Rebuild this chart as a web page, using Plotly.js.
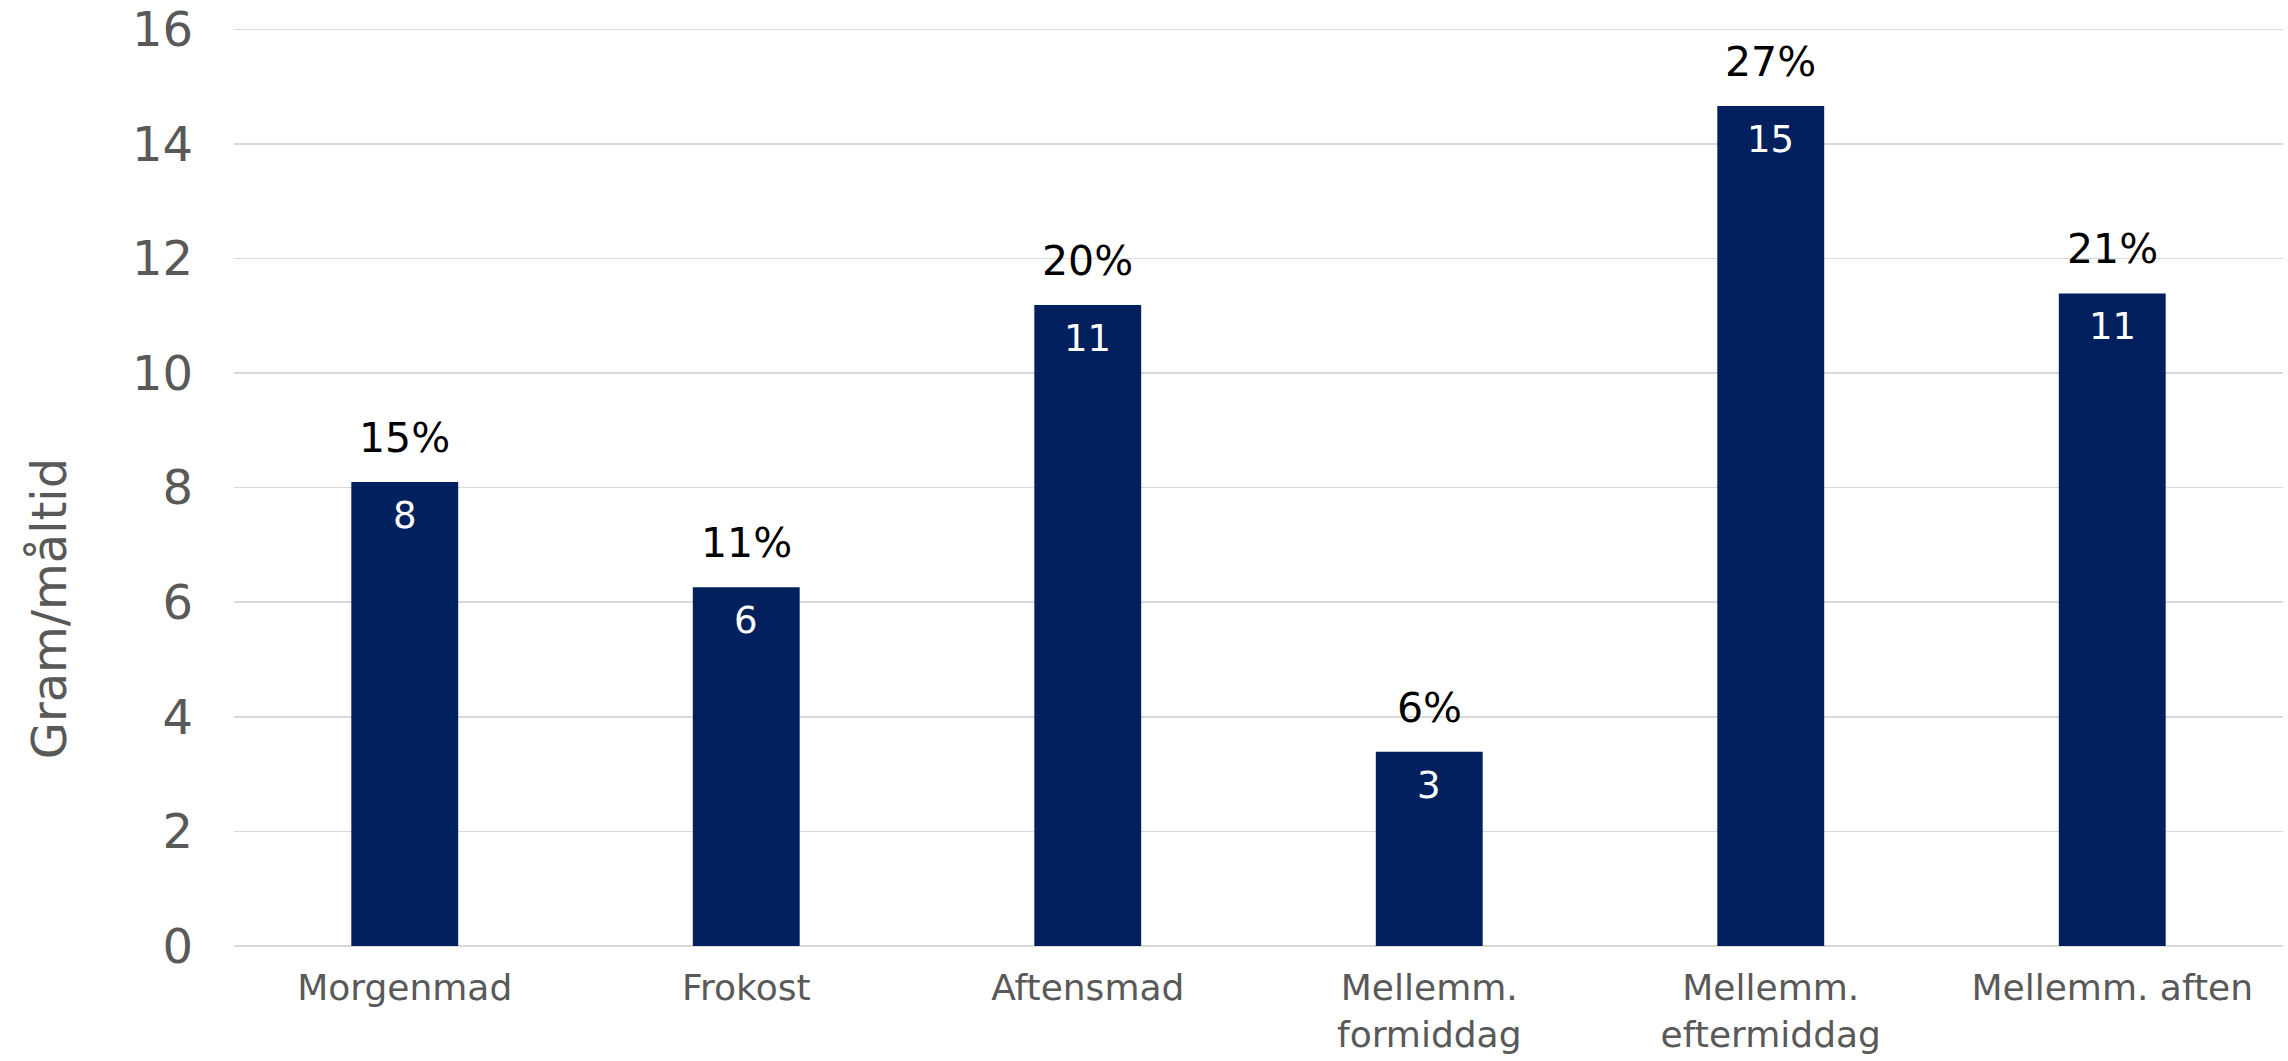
<!DOCTYPE html>
<html>
<head>
<meta charset="utf-8">
<script src="https://cdn.plot.ly/plotly-3.0.1.min.js"></script>
<style>
  html, body { margin: 0; padding: 0; background: #ffffff; }
  #chart { width: 2288px; height: 1061px; }
</style>
</head>
<body>
<div id="chart"></div>
<script>
// ---- data ----
const categories = ["Morgenmad", "Frokost", "Aftensmad", "Mellemm.<br>formiddag", "Mellemm.<br>eftermiddag", "Mellemm. aften"];
const gramPerMeal = [8.1, 6.26, 11.19, 3.39, 14.66, 11.39];
const valueLabels = ["8", "6", "11", "3", "15", "11"];
const shareLabels = ["15%", "11%", "20%", "6%", "27%", "21%"];
const yTickVals = [0, 2, 4, 6, 8, 10, 12, 14, 16];
const yTitle = "Gram/måltid";

const FONT = "DejaVu Sans, Verdana, sans-serif";
const barColor = "#02205E";

const trace = {
  type: "bar",
  x: categories,
  y: gramPerMeal,
  marker: { color: barColor },
  hoverinfo: "skip",
  showlegend: false
};

const annotations = [];
categories.forEach((c, i) => {
  annotations.push({
    x: c, y: gramPerMeal[i], xref: "x", yref: "y",
    text: shareLabels[i], showarrow: false,
    yanchor: "bottom", yshift: 18,
    font: { family: FONT, size: 41, color: "#000000" }
  });
  annotations.push({
    x: c, y: gramPerMeal[i], xref: "x", yref: "y",
    text: valueLabels[i], showarrow: false,
    yanchor: "top", yshift: -10,
    font: { family: FONT, size: 37, color: "#ffffff" }
  });
});
annotations.push({
  x: -0.0903, y: 0.3675, xref: "paper", yref: "paper",
  text: yTitle, showarrow: false, textangle: -90,
  xanchor: "center", yanchor: "middle",
  font: { family: FONT, size: 48, color: "#595959" }
});

const layout = {
  width: 2288, height: 1061,
  margin: { l: 234, r: 5, t: 27, b: 115 },
  paper_bgcolor: "#ffffff", plot_bgcolor: "#ffffff",
  bargap: 0.687,
  font: { family: FONT, color: "#595959" },
  xaxis: {
    type: "category",
    showgrid: false, showline: false, zeroline: false,
    ticks: "",
    ticklabelstandoff: 17,
    tickfont: { family: FONT, size: 36, color: "#595959" }
  },
  yaxis: {
    range: [0, 16.04],
    tickvals: yTickVals,
    showgrid: true, gridcolor: "#D9D9D9", gridwidth: 1.5,
    zeroline: true, zerolinecolor: "#D9D9D9", zerolinewidth: 1.5,
    showline: false, ticks: "",
    ticklabelstandoff: 40,
    tickfont: { family: FONT, size: 48, color: "#595959" }
  },
  annotations: annotations
};

Plotly.newPlot("chart", [trace], layout, { displayModeBar: false, staticPlot: true });
</script>
</body>
</html>
